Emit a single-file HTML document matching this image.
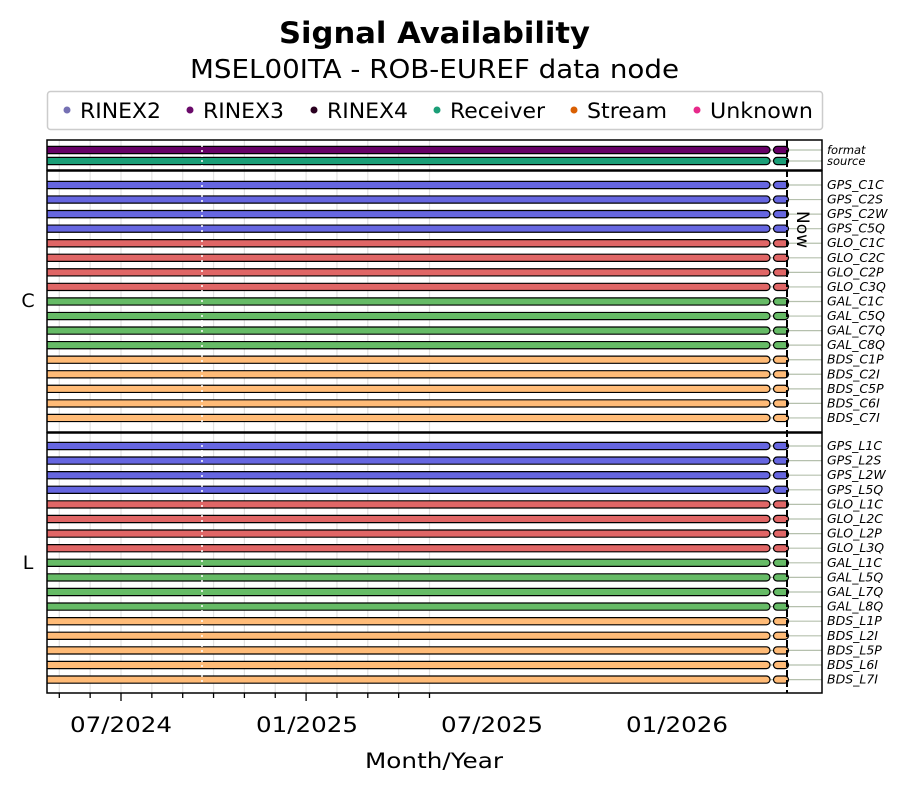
<!DOCTYPE html>
<html><head><meta charset="utf-8"><style>
body{margin:0;background:#fff;}
svg text{font-family:"DejaVu Sans","Liberation Sans",sans-serif;}
</style></head><body>
<svg id="s" width="914" height="793" xmlns="http://www.w3.org/2000/svg">
<text x="279" y="43" font-size="29" font-weight="bold" textLength="311" lengthAdjust="spacingAndGlyphs">Signal Availability</text>
<text x="190" y="78" font-size="26" textLength="489" lengthAdjust="spacingAndGlyphs">MSEL00ITA - ROB-EUREF data node</text>
<rect x="47.5" y="91.5" width="775" height="38" rx="3" fill="#fff" stroke="#ccc" stroke-width="1.5"/>
<g font-size="21">
<circle cx="67" cy="110" r="3.5" fill="#7570b3"/><text x="80" y="118" textLength="81" lengthAdjust="spacingAndGlyphs">RINEX2</text>
<circle cx="190" cy="110" r="3.5" fill="#6a0a6a"/><text x="203" y="118" textLength="81" lengthAdjust="spacingAndGlyphs">RINEX3</text>
<circle cx="314" cy="110" r="3.5" fill="#2a0020"/><text x="327" y="118" textLength="81" lengthAdjust="spacingAndGlyphs">RINEX4</text>
<circle cx="437" cy="110" r="3.5" fill="#1b9e77"/><text x="450" y="118" textLength="95" lengthAdjust="spacingAndGlyphs">Receiver</text>
<circle cx="574" cy="110" r="3.5" fill="#d95f02"/><text x="587" y="118" textLength="80" lengthAdjust="spacingAndGlyphs">Stream</text>
<circle cx="697" cy="110" r="3.5" fill="#e7298a"/><text x="710" y="118" textLength="103" lengthAdjust="spacingAndGlyphs">Unknown</text>
</g>
<g id="g"></g>
<text x="28" y="307" text-anchor="middle" font-size="19">C</text>
<text x="28" y="569" text-anchor="middle" font-size="19">L</text>
<g font-size="21">
<text x="70" y="732" textLength="102" lengthAdjust="spacingAndGlyphs">07/2024</text>
<text x="256" y="732" textLength="102" lengthAdjust="spacingAndGlyphs">01/2025</text>
<text x="441" y="732" textLength="102" lengthAdjust="spacingAndGlyphs">07/2025</text>
<text x="626" y="732" textLength="102" lengthAdjust="spacingAndGlyphs">01/2026</text>
</g>
<text x="365" y="768" font-size="21" textLength="138" lengthAdjust="spacingAndGlyphs">Month/Year</text>
<text transform="translate(797,211) rotate(90)" font-size="17">Now</text>
</svg>
<script>
var g=document.getElementById('g'),h='';
var X0=47,X1=822,sp=30.85;
function line(x1,y1,x2,y2,c,w,extra){h+='<line x1="'+x1+'" y1="'+y1+'" x2="'+x2+'" y2="'+y2+'" stroke="'+c+'" stroke-width="'+w+'" '+(extra||'')+'/>';}
for(var i=-3;i<=10;i++){var x=121+i*sp; if(x<X0||x>X1)continue;
 line(x,140,x,693,'#e2e2e2',1.2);
 var major=(i%6==0); line(x,693,x,major?701:698,'#000',1.3);}
var rows=[];
function add(y,n,c){rows.push([y,n,c]);}
add(150,'format','#660066');add(161,'source','#1b9e77');
var sats=[['GPS','#6666e0'],['GLO','#e06666'],['GAL','#66bb66'],['BDS','#ffbb77']];
var C=[['C1C','C2S','C2W','C5Q'],['C1C','C2C','C2P','C3Q'],['C1C','C5Q','C7Q','C8Q'],['C1P','C2I','C5P','C6I','C7I']];
var L=[['L1C','L2S','L2W','L5Q'],['L1C','L2C','L2P','L3Q'],['L1C','L5Q','L7Q','L8Q'],['L1P','L2I','L5P','L6I','L7I']];
var k=0;C.forEach(function(a,si){a.forEach(function(s){add(185+k*14.56,sats[si][0]+'_'+s,sats[si][1]);k++;});});
k=0;L.forEach(function(a,si){a.forEach(function(s){add(446+k*14.6,sats[si][0]+'_'+s,sats[si][1]);k++;});});
rows.forEach(function(r){var y=r[0];
 line(X0,y,X1,y,'#b5c0ad',1.2);
 h+='<rect x="44" y="'+(y-3.6)+'" width="726" height="7.2" rx="3.6" fill="'+r[2]+'" stroke="#000" stroke-width="1.2"/>';
 h+='<rect x="773.5" y="'+(y-3.6)+'" width="15" height="7.2" rx="3.6" fill="'+r[2]+'" stroke="#000" stroke-width="1.2"/>';
});
line(202,140,202,693,'#fff',1.5,'stroke-dasharray="2,3"');
line(787,140,787,693,'#000',2,'stroke-dasharray="7,3"');
h+='<rect x="'+(X1+1)+'" y="138" width="40" height="560" fill="#fff"/>';
h+='<rect x="0" y="138" width="'+X0+'" height="560" fill="#fff"/>';
h+='<rect x="'+X0+'" y="140" width="'+(X1-X0)+'" height="30" fill="none" stroke="#000" stroke-width="1.5"/>';
h+='<rect x="'+X0+'" y="171" width="'+(X1-X0)+'" height="261" fill="none" stroke="#000" stroke-width="1.5"/>';
h+='<rect x="'+X0+'" y="433" width="'+(X1-X0)+'" height="260" fill="none" stroke="#000" stroke-width="1.5"/>';
rows.forEach(function(r){var small=(r[1]=='format'||r[1]=='source');
 h+='<text x="827" y="'+(r[0]+4)+'" font-size="'+(small?11.5:12.5)+'" font-style="italic">'+r[1]+'</text>';});
g.innerHTML=h;
</script>
</body></html>
